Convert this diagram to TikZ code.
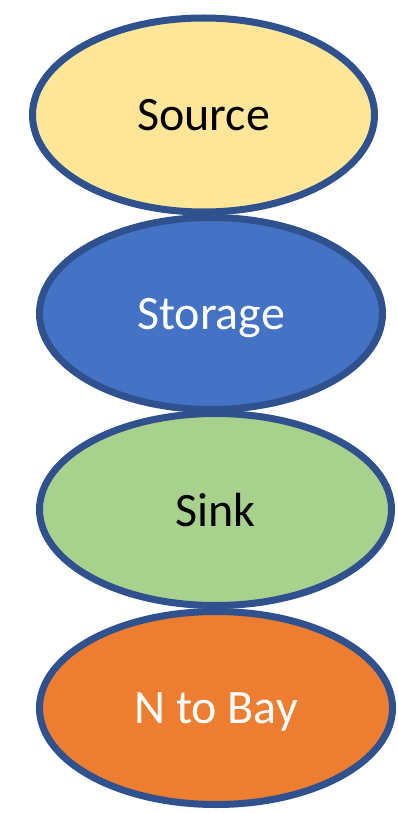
\documentclass[tikz,border=0pt]{standalone}
\usepackage{fontspec}
\setmainfont{Carlito}
\usetikzlibrary{shapes.geometric}
\definecolor{sourcefill}{HTML}{FFE699}
\definecolor{storagefill}{HTML}{4472C4}
\definecolor{sinkfill}{HTML}{A9D18E}
\definecolor{bayfill}{HTML}{ED7D31}
\definecolor{rimblue}{HTML}{2F528F}
\begin{document}
\begin{tikzpicture}[x=1pt, y=-1pt,
        every node/.style={ellipse, draw=rimblue, line width=7pt, inner sep=0pt,
            font=\fontsize{48}{52}\selectfont, text depth=0pt}
    ]
        \useasboundingbox (0,0) rectangle (397,813);
        % Các vùng xếp chồng
        \node [fill=sourcefill, minimum width=342pt, minimum height=194pt] (source) at (203.5,115) {Source};
        \node [fill=storagefill, text=white, minimum width=343pt, minimum height=192pt] (storage) at (211,313.5) {Storage};
        \node [fill=sinkfill, minimum width=352pt, minimum height=192pt] (sink) at (215.5,509.5) {Sink};
        \node [fill=bayfill, text=white, minimum width=353pt, minimum height=193pt] (bay) at (216,708) {N to Bay};
    \end{tikzpicture}
\end{document}
